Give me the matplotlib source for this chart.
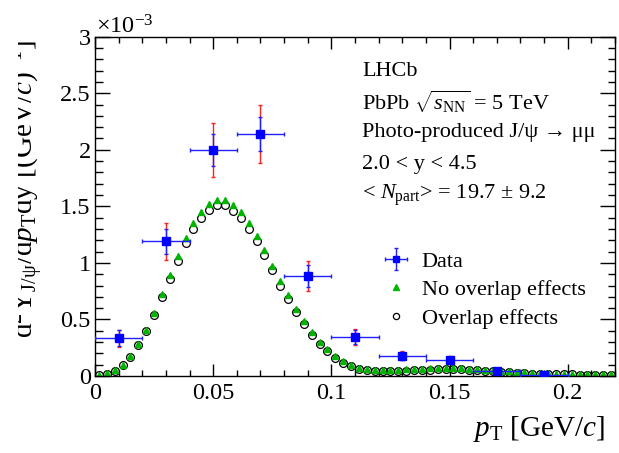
import matplotlib
import numpy as np

matplotlib.use("Agg")
import matplotlib.pyplot as plt
from matplotlib.ticker import FormatStrFormatter, MultipleLocator
from matplotlib.transforms import Bbox, TransformedBbox

plt.rcParams["font.family"] = ["Liberation Serif", "DejaVu Serif"]
plt.rcParams["mathtext.fontset"] = "custom"
plt.rcParams["mathtext.rm"] = "Liberation Serif"
plt.rcParams["mathtext.it"] = "Liberation Serif:italic"
plt.rcParams["mathtext.bf"] = "Liberation Serif:bold"

W, H = 619, 453

# values in units of 1e-3 (GeV/c)^-1
data_pt = [0.01, 0.03, 0.05, 0.07, 0.09, 0.11, 0.13, 0.15, 0.17, 0.19]
data_pt_err = [0.01] * 10
data_y = [0.335, 1.19, 2.00, 2.14, 0.885, 0.345, 0.18, 0.145, 0.045, 0.012]
data_stat = [0.07, 0.11, 0.14, 0.15, 0.10, 0.06, 0.035, 0.025, 0.015, 0.01]
data_tot = [0.075, 0.165, 0.24, 0.255, 0.13, 0.07, 0.04, 0.03, 0.018, 0.012]

# model curves, 66 bins from 0 to 0.22 GeV/c
model_edges = np.linspace(0.0, 0.22, 67)
overlap_y = [
    0.01, 0.02, 0.047, 0.095, 0.17, 0.27, 0.395, 0.54, 0.70, 0.86,
    1.02, 1.18, 1.30, 1.40, 1.47, 1.51, 1.51, 1.46, 1.40, 1.30,
    1.19, 1.07, 0.935, 0.80, 0.68, 0.565, 0.456, 0.365, 0.285, 0.218,
    0.160, 0.118, 0.088, 0.065, 0.052, 0.047, 0.045, 0.045, 0.046, 0.047,
    0.050, 0.053, 0.056, 0.058, 0.060, 0.060, 0.058, 0.055, 0.050, 0.045,
    0.040, 0.036, 0.032, 0.028, 0.025, 0.022, 0.020, 0.018, 0.016, 0.015,
    0.014, 0.013, 0.012, 0.011, 0.010, 0.010,
]
no_overlap_y = [
    0.012, 0.025, 0.052, 0.10, 0.18, 0.285, 0.41, 0.56, 0.725, 0.89,
    1.06, 1.22, 1.35, 1.45, 1.52, 1.56, 1.56, 1.51, 1.45, 1.35,
    1.24, 1.11, 0.975, 0.84, 0.715, 0.595, 0.485, 0.39, 0.305, 0.235,
    0.175, 0.13, 0.098, 0.075, 0.062, 0.057, 0.055, 0.055, 0.056, 0.058,
    0.061, 0.064, 0.067, 0.069, 0.071, 0.071, 0.069, 0.065, 0.060, 0.055,
    0.050, 0.045, 0.040, 0.036, 0.032, 0.029, 0.026, 0.024, 0.022, 0.020,
    0.019, 0.018, 0.017, 0.016, 0.015, 0.015,
]

info_lines = [
    "LHCb",
    r"PbPb $\sqrt{s_{\mathrm{NN}}}$ = 5 TeV",
    "Photo-produced J/ψ → μμ",
    "2.0 < y < 4.5",
    r"< $N_{\mathrm{part}}$> = 19.7 ± 9.2",
]


def main() -> None:
    fig = plt.figure(figsize=(W / 100, H / 100), dpi=100)
    ax = fig.add_axes([95 / W, 1 - 376 / H, 520 / W, (376 - 36.7) / H])

    centers = 0.5 * (model_edges[:-1] + model_edges[1:])

    ax.errorbar(
        data_pt, data_y, yerr=data_tot, fmt="none", ecolor="#ff2020",
        elinewidth=1.0, capsize=1.5, capthick=1.0, zorder=3,
    )
    data_handle = ax.errorbar(
        data_pt, data_y, xerr=data_pt_err, yerr=data_stat, fmt="s",
        color="#0000ff", ecolor="#2020ff", ms=5.2, elinewidth=1.0,
        capsize=1.5, capthick=1.0, zorder=4, label="Data",
    )
    (overlap_handle,) = ax.plot(
        centers, overlap_y, "o", ms=5.6, mfc="none", mec="black", mew=0.9,
        zorder=2, label="Overlap effects",
    )
    (no_overlap_handle,) = ax.plot(
        centers, no_overlap_y, "^", ms=4.8, color="#00b400", mec="#00b400",
        zorder=2.5, label="No overlap effects",
    )

    ax.set_xlim(0, 0.22)
    ax.set_ylim(0, 3)
    ax.xaxis.set_major_locator(MultipleLocator(0.05))
    ax.xaxis.set_minor_locator(MultipleLocator(0.01))
    ax.yaxis.set_major_locator(MultipleLocator(0.5))
    ax.yaxis.set_minor_locator(MultipleLocator(0.1))
    ax.xaxis.set_major_formatter(FormatStrFormatter("%g"))
    ax.yaxis.set_major_formatter(FormatStrFormatter("%g"))
    ax.tick_params(axis="both", which="both", direction="in", top=True,
                   right=True, width=1.0, labelsize=17.5)
    ax.tick_params(axis="x", which="major", length=8.6, pad=5)
    ax.tick_params(axis="x", which="minor", length=4.3)
    ax.tick_params(axis="y", which="major", length=10.8, pad=3)
    ax.tick_params(axis="y", which="minor", length=5.4)
    for spine in ax.spines.values():
        spine.set_linewidth(1.0)

    fig.text(96 / W, 1 - 33 / H, r"$\times10^{-3}$", fontsize=17.5,
             ha="left", va="baseline")

    fig.text(605 / W, 1 - 436 / H, r"$p_{\mathrm{T}}$ [GeV/$c$]",
             fontsize=21, ha="right", va="baseline")

    ylab = fig.text(
        46 / W, 1 - 40 / H,
        r"$\mathrm{d}^{2}\mathrm{Y}_{\mathrm{J/ψ}}/\mathrm{d}p_{\mathrm{T}}\mathrm{dy}$ [(GeV/$c$)$^{-1}$]",
        rotation=90, fontsize=21, ha="right", va="bottom",
        rotation_mode="anchor",
    )
    ylab.set_clip_box(TransformedBbox(Bbox([[18 / W, 0], [1, 1]]),
                                      fig.transFigure))
    ylab.set_clip_on(True)

    for i, line in enumerate(info_lines):
        fig.text(362 / W, 1 - (71 + 31 * i) / H, line, fontsize=16,
                 ha="left", va="center")

    ax.legend(
        handles=[data_handle, no_overlap_handle, overlap_handle],
        labels=["Data", "No overlap effects", "Overlap effects"],
        loc="upper left", bbox_to_anchor=(366 / W, 1 - 240 / H),
        bbox_transform=fig.transFigure, frameon=False, fontsize=16,
        handlelength=1.7, handletextpad=0.3, labelspacing=0.36,
        borderpad=0, markerscale=0.8,
    )

    fig.savefig("out.png", dpi=100)
    plt.close(fig)


if __name__ == "__main__":
    main()
